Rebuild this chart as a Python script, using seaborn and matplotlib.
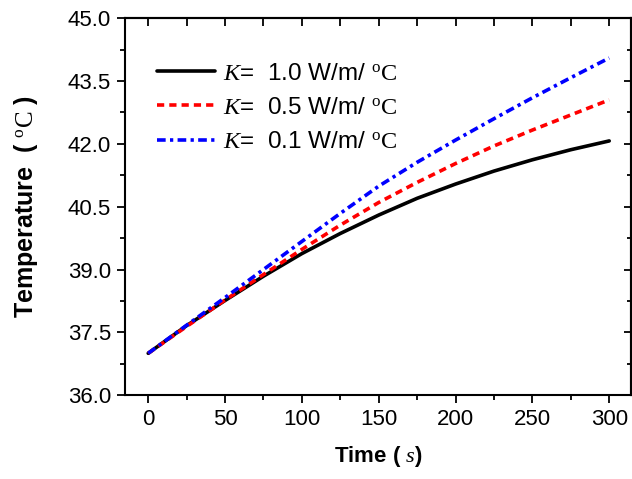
import matplotlib
matplotlib.use('Agg')
import matplotlib.pyplot as plt
from matplotlib.ticker import MultipleLocator, FormatStrFormatter
import pandas as pd
import seaborn as sns

time_s = [0, 25, 50, 75, 100, 125, 150, 175, 200, 225, 250, 275, 300]
temp_k10 = [37.00, 37.66, 38.26, 38.84, 39.38, 39.86, 40.30, 40.70, 41.04, 41.35, 41.62, 41.86, 42.07]
temp_k05 = [37.00, 37.64, 38.27, 38.88, 39.48, 40.06, 40.60, 41.08, 41.53, 41.95, 42.33, 42.69, 43.05]
temp_k01 = [37.00, 37.67, 38.33, 39.00, 39.67, 40.34, 40.99, 41.56, 42.09, 42.60, 43.10, 43.58, 44.05]

labels = [r'$\mathit{K}$=  1.0 W/m/ $^{\rm o}\rm C$',
          r'$\mathit{K}$=  0.5 W/m/ $^{\rm o}\rm C$',
          r'$\mathit{K}$=  0.1 W/m/ $^{\rm o}\rm C$']
colors = ['black', '#ff0000', '#0000ff']
dash_patterns = [None, (2.0, 1.4), (2.4, 1.2, 0.9, 1.2)]

sns.set_style('ticks', {'axes.edgecolor': 'black', 'text.color': 'black',
                        'axes.labelcolor': 'black', 'xtick.color': 'black',
                        'ytick.color': 'black'})
plt.rcParams['font.family'] = ['Liberation Sans', 'DejaVu Sans']
plt.rcParams['mathtext.fontset'] = 'custom'
plt.rcParams['mathtext.rm'] = 'Liberation Serif'
plt.rcParams['mathtext.it'] = 'Liberation Serif:italic'
plt.rcParams['mathtext.bf'] = 'Liberation Serif:bold'

fig = plt.figure(figsize=(6.32, 4.79), dpi=100)
ax = fig.add_axes([0.198, 0.175, 0.800, 0.787])

for vals, lab, c, d in zip([temp_k10, temp_k05, temp_k01], labels, colors, dash_patterns):
    df = pd.DataFrame({'t': time_s, 'T': vals})
    sns.lineplot(data=df, x='t', y='T', ax=ax, color=c, linewidth=2.6, label=lab)
    if d is not None:
        ax.lines[-1].set_dashes(d)

ax.set_xlim(-15, 314)
ax.set_ylim(36.0, 45.0)
ax.xaxis.set_major_locator(MultipleLocator(50))
ax.xaxis.set_minor_locator(MultipleLocator(25))
ax.yaxis.set_major_locator(MultipleLocator(1.5))
ax.yaxis.set_minor_locator(MultipleLocator(0.75))
ax.yaxis.set_major_formatter(FormatStrFormatter('%.1f'))
ax.tick_params(which='major', direction='out', length=6, width=1.3, labelsize=16, pad=4)
ax.tick_params(which='minor', direction='out', length=3.5, width=1.3)
for sp in ax.spines.values():
    sp.set_linewidth(1.5)

top = ax.secondary_xaxis('top')
top.xaxis.set_major_locator(MultipleLocator(25))
top.tick_params(direction='in', length=6, width=1.3, labeltop=False)
right = ax.secondary_yaxis('right')
right.yaxis.set_major_locator(MultipleLocator(1.5))
right.yaxis.set_minor_locator(MultipleLocator(0.75))
right.tick_params(which='major', direction='in', length=5, width=1.3, labelright=False)
right.tick_params(which='minor', direction='in', length=3, width=1.3)
for sp in list(top.spines.values()) + list(right.spines.values()):
    sp.set_linewidth(1.5)

ax.set_xlabel(r'Time ( $\mathit{s}$)', fontsize=16, fontweight='bold', labelpad=10)
ax.set_ylabel(r'Temperature  ( $^{\rm o}\rm C$ )', fontsize=18, fontweight='bold')
ax.yaxis.set_label_coords(-0.168, 0.5)

leg = ax.legend(loc='upper left', bbox_to_anchor=(0.02, 0.94), frameon=False, fontsize=17.5,
                handlelength=2.4, labelspacing=0.5, handletextpad=0.3)

fig.savefig('out.png', dpi=100)
